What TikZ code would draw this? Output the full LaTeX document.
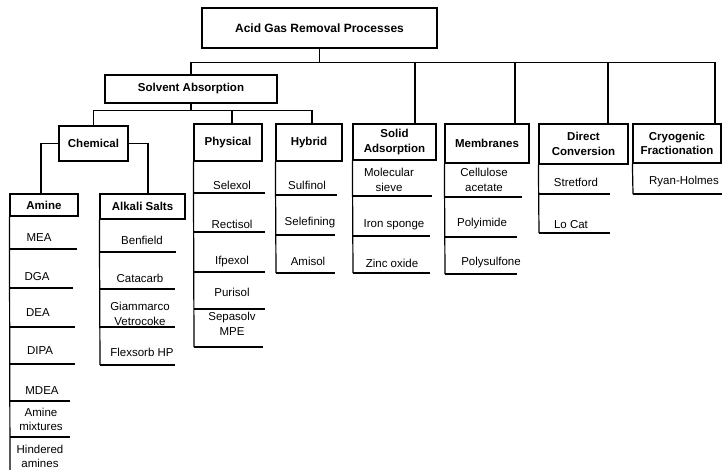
\documentclass[tikz,border=0pt]{standalone}
\usepackage{fontspec}
\setmainfont{Liberation Sans}
\begin{document}
\begin{tikzpicture}[x=1pt,y=-1pt,line width=1.2pt,
  hdr/.style={draw, font=\bfseries\fontsize{11.5}{14.5}\selectfont, align=center, inner sep=0pt},
  itm/.style={font=\fontsize{11.5}{14.5}\selectfont, align=center, inner sep=0pt},
  conn/.style={line width=1.2pt},
  rule/.style={line width=1.2pt}]
\useasboundingbox (0,0) rectangle (722,470);

% headers
\node[hdr, font=\bfseries\fontsize{12}{14}\selectfont, minimum width=235pt, minimum height=40pt] (top) at (319.5,28) {Acid Gas Removal Processes};
\node[hdr, minimum width=172pt, minimum height=28pt] (solv) at (191,89) {Solvent Absorption};
\node[hdr, minimum width=69pt, minimum height=35pt] (chem) at (93.5,143.5) {Chemical};
\node[hdr, minimum width=68pt, minimum height=37pt] (phys) at (228,142.5) {Physical};
\node[hdr, minimum width=66pt, minimum height=37pt] (hyb) at (309,142.5) {Hybrid};
\node[hdr, minimum width=83pt, minimum height=36pt] (solid) at (394.5,142) {Solid\\Adsorption};
\node[hdr, minimum width=84pt, minimum height=39pt] (memb) at (487,143.5) {Membranes};
\node[hdr, minimum width=89pt, minimum height=40pt] (direct) at (583.5,144) {Direct\\Conversion};
\node[hdr, minimum width=88pt, minimum height=39pt] (cryo) at (677,143.5) {Cryogenic\\Fractionation};
\node[hdr, minimum width=68pt, minimum height=22pt] (amine) at (44,205) {Amine};
\node[hdr, minimum width=85pt, minimum height=25pt] (alk) at (142.5,206.5) {Alkali Salts};

% tree connectors
\draw[conn] (top.south) -- ++(0,14) coordinate (bus);
\draw[conn] (bus) -| (solv.north);
\draw[conn] (bus) -| ([xshift=20.5pt]solid.north);
\draw[conn] (bus) -| ([xshift=28pt]memb.north);
\draw[conn] (bus) -| ([xshift=24.5pt]direct.north);
\draw[conn] (bus) -| ([xshift=38pt]cryo.north);
\draw[conn] (solv.south) -- ++(0,7) coordinate (sbus);
\draw[conn] (sbus) -| (chem.north);
\draw[conn] (sbus) -| ([xshift=4pt]phys.north);
\draw[conn] (sbus) -| ([xshift=3pt]hyb.north);
\draw[conn] (chem.west) -| ([xshift=-3pt]amine.north);
\draw[conn] (chem.east) -| ([xshift=5.5pt]alk.north);

% Amine column
\node[itm] (mea) at (39,238) {MEA};
\node[itm] (dga) at (37,277) {DGA};
\node[itm] (dea) at (38,313) {DEA};
\node[itm] (dipa) at (40,351) {DIPA};
\node[itm] (mdea) at (42,391) {MDEA};
\node[itm] (amix) at (41,419.5) {Amine\\mixtures};
\node[itm] (hind) at (40,456.5) {Hindered\\amines};
\draw[rule] (amine.south west) -- (10,470);
\foreach \y/\r in {249/77,288/73,327/75,364/75,401/70,437/70}
  \draw[rule] (10,\y) -- (\r,\y);

% Alkali salts column
\node[itm] (benf) at (142,240) {Benfield};
\node[itm] (cata) at (140,278) {Catacarb};
\node[itm] (giam) at (140,314) {Giammarco\\Vetrocoke};
\node[itm] (flex) at (142,352) {Flexsorb HP};
\draw[rule] (alk.south west) -- (100,365);
\foreach \y/\r in {252/176,289/175,327/175,365/175}
  \draw[rule] (100,\y) -- (\r,\y);

% Physical column
\node[itm] (selx) at (232,185) {Selexol};
\node[itm] (rect) at (232,224) {Rectisol};
\node[itm] (ifpx) at (232,262) {Ifpexol};
\node[itm] (puri) at (232,292) {Purisol};
\node[itm] (sepa) at (232,324) {Sepasolv\\MPE};
\draw[rule] (phys.south west) -- (194,347);
\foreach \y/\r in {193/265,232/265,272/265,309/265,347/263}
  \draw[rule] (194,\y) -- (\r,\y);

% Hybrid column
\node[itm] (sulf) at (307,185) {Sulfinol};
\node[itm] (self) at (310,223) {Selefining};
\node[itm] (amis) at (308,261) {Amisol};
\draw[rule] (hyb.south west) -- (276,273);
\foreach \y/\r in {195/337,235/335,273/335}
  \draw[rule] (276,\y) -- (\r,\y);

% Solid adsorption column
\node[itm] (mols) at (389,180) {Molecular\\sieve};
\node[itm] (iron) at (394,225) {Iron sponge};
\node[itm] (zinc) at (392,263) {Zinc oxide};
\draw[rule] (solid.south west) -- (353,273);
\foreach \y/\r in {196/432,236/430,273/430}
  \draw[rule] (353,\y) -- (\r,\y);

% Membranes column
\node[itm] (cell) at (484,180) {Cellulose\\acetate};
\node[itm] (polyi) at (482,224) {Polyimide};
\node[itm] (polys) at (491,263) {Polysulfone};
\draw[rule] (memb.south west) -- (445,274);
\foreach \y/\r in {197/522,237/517,274/517}
  \draw[rule] (445,\y) -- (\r,\y);

% Direct conversion column
\node[itm] (stre) at (576,182) {Stretford};
\node[itm] (locat) at (571,225) {Lo Cat};
\draw[rule] (direct.south west) -- (539,233);
\foreach \y/\r in {194/610,233/610}
  \draw[rule] (539,\y) -- (\r,\y);

% Cryogenic column
\node[itm] (ryan) at (684,182) {Ryan-Holmes};
\draw[rule] (cryo.south west) -- (633,194);
\draw[rule] (633,194) -- (722,194);
\end{tikzpicture}
\end{document}
